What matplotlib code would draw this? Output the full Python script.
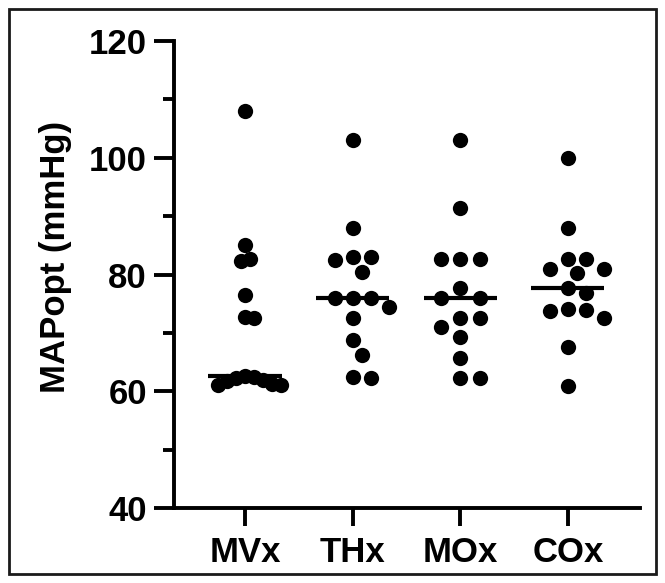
import numpy as np
import matplotlib
matplotlib.use("Agg")
import matplotlib.pyplot as plt
from matplotlib.patches import Rectangle

plt.rcParams['font.family'] = ['Liberation Sans', 'DejaVu Sans']
plt.rcParams['font.weight'] = 'bold'

groups = ['MVx', 'THx', 'MOx', 'COx']
mvx = [108, 85, 82.3, 82.7, 76.5, 72.5, 72.8,
       61.0, 61.1, 61.3, 61.7, 62.0, 62.2, 62.4, 62.6]
thx = [103, 88, 83, 83, 82.5, 80.4, 76, 76, 76, 74.5, 72.6,
       68.8, 66.2, 62.5, 62.3]
mox = [103, 91.4, 82.7, 82.7, 82.7, 77.7, 76, 76, 72.6, 72.6,
       71, 69.3, 65.7, 62.3, 62.3]
cox = [100, 88, 82.7, 82.7, 81, 81, 80.3, 77.7, 76.8, 74.1, 74,
       73.8, 72.6, 67.6, 60.9]
values = [mvx, thx, mox, cox]

yticks = [40, 60, 80, 100, 120]
yminor = [50, 70, 90, 110]


def swarm(vals, ax, diam, step, maxhalf):
    # grid swarm in pixel space, squeezed when too wide
    vals = np.sort(np.asarray(vals, dtype=float))[::-1]
    to_px = ax.transData.transform
    py = np.array([to_px((0, v))[1] for v in vals])
    xpu = to_px((1, 0))[0] - to_px((0, 0))[0]
    placed = []
    cands = [0]
    for i in range(1, 20):
        cands += [i * step / 2, -i * step / 2]
    for y in py:
        for c in cands:
            if all((c - px) ** 2 + (y - pyy) ** 2 >= diam ** 2
                   for px, pyy in placed):
                placed.append((c, y))
                break
    offs = np.array([p[0] for p in placed])
    span = np.abs(offs).max()
    if span > maxhalf:
        offs = offs * maxhalf / span
    return vals, offs / xpu


fig = plt.figure(figsize=(6.65, 5.83), dpi=100)
ax = fig.add_axes([174 / 665, 75 / 583, 466 / 665, 467 / 583])

ax.set_xlim(-0.66, 3.67)
ax.set_ylim(40, 120)

for i, v in enumerate(values):
    vs, offs = swarm(v, ax, 15.5, 19.5, 36)
    ax.plot(i + offs, vs, 'o', color='black', markersize=11,
            markeredgewidth=0, clip_on=False, zorder=3)
    med = np.median(v)
    ax.plot([i - 0.34, i + 0.34], [med, med], color='black', lw=3,
            solid_capstyle='butt', zorder=4)

for s in ['top', 'right']:
    ax.spines[s].set_visible(False)
for s in ['left', 'bottom']:
    ax.spines[s].set_linewidth(2.8)

ax.set_yticks(yticks)
ax.set_yticks(yminor, minor=True)
ax.set_xticks(range(len(groups)))
ax.set_xticklabels(groups)
ax.tick_params(axis='y', which='major', length=14.5, width=2.8,
               labelsize=25, pad=5)
ax.tick_params(axis='y', which='minor', length=8, width=2.8)
ax.tick_params(axis='x', which='major', length=13, width=2.8,
               labelsize=25, pad=7)
ax.set_ylabel('MAPopt (mmHg)', fontsize=25, fontweight='bold')
ax.yaxis.set_label_coords(-0.219, 0.537)

fig.patches.append(Rectangle((9 / 665, 9 / 583), 647 / 665, 565 / 583,
                             transform=fig.transFigure, fill=False,
                             edgecolor='#1a1a1a', linewidth=2))

fig.savefig('out.png', dpi=100)
